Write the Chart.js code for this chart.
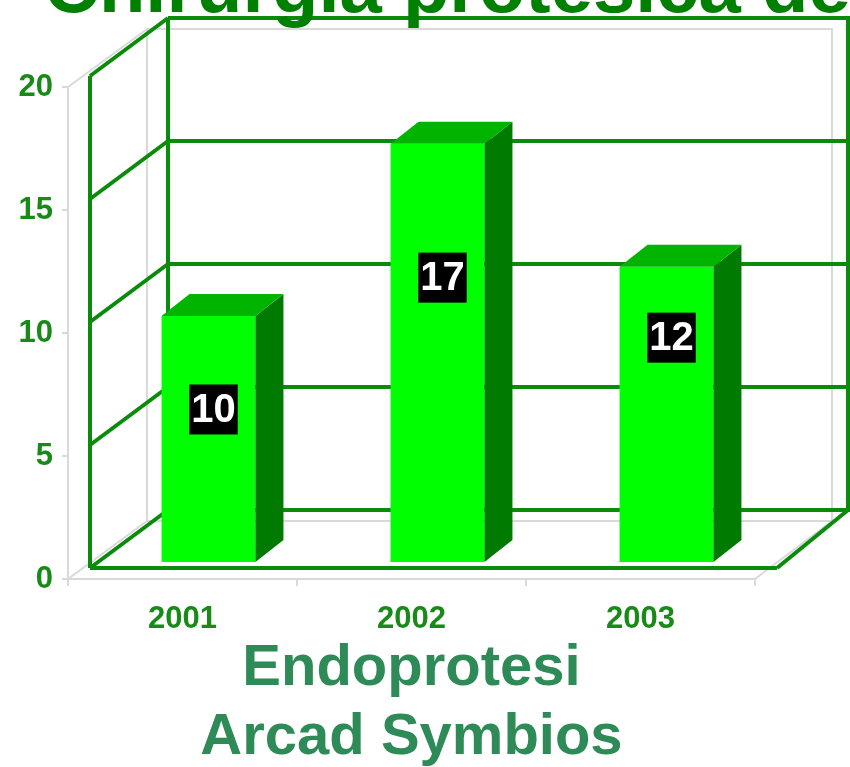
<!DOCTYPE html>
<html>
<head>
<meta charset="utf-8">
<script src="https://cdn.jsdelivr.net/npm/chart.js@4.4.0/dist/chart.umd.min.js"></script>
<style>
  body { margin: 0; background: #fff; }
  #wrap { width: 850px; height: 767px; }
</style>
</head>
<body>
<div id="wrap"><canvas id="chart"></canvas></div>
<script>
// data
const years = ['2001', '2002', '2003'];
const interventions = [10, 17, 12];
const yMax = 20;
const yStep = 5;
const titleText = 'Chirurgia protesica de';
const axisTitle = ['Endoprotesi', 'Arcad Symbios'];

const FONT = '"Liberation Sans", Arial, sans-serif';
const lineGreen = '#0a8c0a';
const tickGreen = '#178a17';
const grayLine = '#d9d9d9';

// 3d look: offsets in pixels
const grayBack = [79, -58];
const wallFront = [22, -11];
const wallBack = [100, -69];
const wallBackRight = 93;
const barShift = [26, -17];
const barDepth = [28, -22];
const labelAt = [0.62, 0.68, 0.76];

function line(ctx, x1, y1, x2, y2) {
  ctx.beginPath();
  ctx.moveTo(x1, y1);
  ctx.lineTo(x2, y2);
  ctx.stroke();
}
function poly(ctx, pts) {
  ctx.beginPath();
  ctx.moveTo(pts[0][0], pts[0][1]);
  for (let i = 1; i < pts.length; i++) ctx.lineTo(pts[i][0], pts[i][1]);
  ctx.closePath();
  ctx.fill();
}

const frame3d = {
  id: 'frame3d',
  beforeDatasetsDraw(chart) {
    const {ctx, chartArea: a, scales: {x, y}, width} = chart;
    const y0 = y.getPixelForValue(0);
    const yT = y.getPixelForValue(yMax);
    ctx.save();

    // gray frame behind
    ctx.strokeStyle = grayLine;
    ctx.lineWidth = 2;
    ctx.strokeRect(a.left + grayBack[0], yT + grayBack[1], a.right - a.left - 2, y0 - yT);
    line(ctx, a.left, yT, a.left, y0);
    line(ctx, a.left, y0, a.right, y0);
    line(ctx, a.left, yT, a.left + grayBack[0], yT + grayBack[1]);
    line(ctx, a.left, y0, a.left + grayBack[0], y0 + grayBack[1]);
    line(ctx, a.right, y0, a.right + grayBack[0] - 2, y0 + grayBack[1]);
    y.ticks.forEach(t => {
      const py = y.getPixelForValue(t.value);
      line(ctx, a.left - 6, py, a.left, py);
    });
    for (let i = 0; i <= years.length; i++) {
      const px = x.getPixelForValue(i - 0.5);
      line(ctx, px, y0, px, y0 + 7);
    }

    // green walls
    ctx.strokeStyle = lineGreen;
    ctx.lineWidth = 4;
    const fl = a.left + wallFront[0];
    const bl = a.left + wallBack[0];
    const br = a.right + wallBackRight;
    line(ctx, fl, yT + wallFront[1], fl, y0 + wallFront[1]);
    line(ctx, bl, yT + wallBack[1], bl, y0 + wallBack[1]);
    line(ctx, br, yT + wallBack[1], br, y0 + wallBack[1]);
    y.ticks.forEach(t => {
      const py = y.getPixelForValue(t.value);
      line(ctx, fl, py + wallFront[1], bl, py + wallBack[1]);
      line(ctx, bl, py + wallBack[1], width, py + wallBack[1]);
    });
    // floor
    line(ctx, fl, y0 + wallFront[1], a.right + wallFront[0], y0 + wallFront[1]);
    line(ctx, a.right + wallFront[0], y0 + wallFront[1], br, y0 + wallBack[1]);
    ctx.restore();

    // bars are drawn by Chart.js, shifted into the box
    ctx.save();
    ctx.translate(barShift[0], barShift[1]);
  },
  afterDatasetsDraw(chart) {
    const {ctx, scales: {y}} = chart;
    ctx.restore();
    ctx.save();
    const meta = chart.getDatasetMeta(0);
    meta.data.forEach((bar, i) => {
      const p = bar.getProps(['x', 'y', 'base', 'width'], true);
      const l = p.x - p.width / 2 + barShift[0];
      const r = p.x + p.width / 2 + barShift[0];
      const t = p.y + barShift[1];
      const b = p.base + barShift[1];
      const [dx, dy] = barDepth;
      ctx.fillStyle = '#007a00';
      poly(ctx, [[r, t], [r + dx, t + dy], [r + dx, b + dy], [r, b]]);
      ctx.fillStyle = '#00b400';
      poly(ctx, [[l, t], [l + dx, t + dy], [r + dx, t + dy], [r, t]]);

      // value label
      const ly = y.getPixelForValue(interventions[i] * labelAt[i]) + barShift[1];
      const lx = (l + r) / 2 + 5;
      ctx.font = 'bold 40px ' + FONT;
      const w = ctx.measureText(String(interventions[i])).width + 4;
      ctx.fillStyle = '#000';
      ctx.fillRect(lx - w / 2, ly - 25, w, 50);
      ctx.fillStyle = '#fff';
      ctx.textAlign = 'center';
      ctx.textBaseline = 'middle';
      ctx.fillText(String(interventions[i]), lx, ly + 1);
    });
    ctx.restore();
  },
  afterDraw(chart) {
    const {ctx} = chart;
    ctx.save();
    ctx.font = 'bold 76px ' + FONT;
    ctx.fillStyle = '#008000';
    ctx.textAlign = 'left';
    ctx.textBaseline = 'alphabetic';
    ctx.fillText(titleText, 44, 12);
    ctx.restore();
  }
};

new Chart(document.getElementById('chart'), {
  type: 'bar',
  data: {
    labels: years,
    datasets: [{
      data: interventions,
      backgroundColor: '#00ff00',
      borderWidth: 0,
      barPercentage: 1,
      categoryPercentage: 0.41,
      clip: false
    }]
  },
  options: {
    responsive: true,
    maintainAspectRatio: false,
    animation: false,
    layout: { padding: { top: 87, right: 95, left: 0, bottom: 0 } },
    plugins: {
      legend: { display: false },
      tooltip: { enabled: false }
    },
    scales: {
      x: {
        grid: { display: false, drawTicks: false },
        border: { display: false },
        ticks: {
          color: tickGreen,
          font: { family: FONT, size: 31, weight: 'bold' },
          padding: 22,
          maxRotation: 0
        },
        title: {
          display: true,
          text: axisTitle,
          color: '#2e8b57',
          font: { family: FONT, size: 58, weight: 'bold', lineHeight: 1.19 },
          padding: { top: 0, bottom: -6 }
        },
        afterFit(scale) { scale.height = 188; }
      },
      y: {
        min: 0,
        max: yMax,
        grid: { display: false, drawTicks: false },
        border: { display: false },
        ticks: {
          stepSize: yStep,
          color: tickGreen,
          font: { family: FONT, size: 31, weight: 'bold' },
          padding: 15
        },
        afterFit(scale) { scale.width = 68; }
      }
    }
  },
  plugins: [frame3d]
});
</script>
</body>
</html>
